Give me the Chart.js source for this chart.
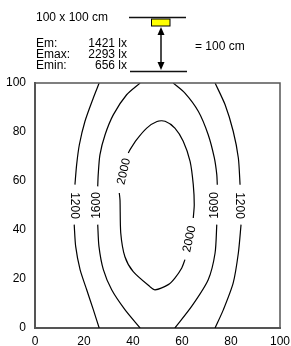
<!DOCTYPE html>
<html>
<head>
<meta charset="utf-8">
<script src="https://cdn.jsdelivr.net/npm/chart.js@4/dist/chart.umd.min.js"></script>
<style>
  html, body { margin: 0; padding: 0; background: #fff; }
  #wrap { width: 291px; height: 346px; }
</style>
</head>
<body>
<div id="wrap"><canvas id="iso" width="291" height="346"></canvas></div>
<script>
const FONT = "Arial, 'Liberation Sans', sans-serif";

// tick labels
const xTicks = [0, 20, 40, 60, 80, 100];
const yTicks = [0, 20, 40, 60, 80, 100];

// header texts
const roomLabel = "100 x 100 cm";
const statNames = ["Em:", "Emax:", "Emin:"];
const statValues = ["1421 lx", "2293 lx", "656 lx"];
const heightLabel = "= 100 cm";

// isolines, [x, y] in cm, split where the label sits
const iso1200LeftTop = [[26.2,100],[23.8,93.9],[20.4,84.4],[18.1,74.8],[17.0,66.7],[16.3,58.5]];
const iso1200LeftBottom = [[16.0,42.2],[16.6,33.3],[18.4,23.8],[21.1,15.6],[23.8,7.5],[26.2,0]];
const iso1600LeftTop = [[42.9,100],[37.4,95.2],[32.0,87.1],[28.6,78.9],[26.5,70.7],[25.8,62.6],[25.6,57.8]];
const iso1600LeftBottom = [[25.6,42.2],[26.1,33.3],[27.9,23.8],[31.3,15.6],[36.7,7.5],[42.9,0]];
const iso1600RightTop = [[56.4,100],[61.2,95.9],[66.7,88.4],[70.7,78.9],[73.2,69.4],[74.2,62.6],[74.4,58.5]];
const iso1600RightBottom = [[74.2,42.2],[73.5,30.6],[70.7,19.7],[64.0,8.9],[57.1,0]];
const iso1200RightTop = [[73.5,100],[77.6,91.1],[80.9,80.3],[83.0,69.4],[83.7,58.5]];
const iso1200RightBottom = [[84.1,42.2],[83.0,30.6],[80.9,18.4],[76.9,7.5],[73.5,0]];
const iso2000Lower = [[34.4,55.1],[34.7,52.2],[35.0,38.8],[36.7,29.1],[40.1,23.0],[46.9,16.9],[49.0,15.6],
  [54.4,17.7],[57.1,20.4],[59.9,24.5],[61.2,27.9]];
const iso2000Upper = [[64.6,44.9],[65.0,50.3],[64.6,58.5],[63.3,68.0],[60.5,76.2],[57.1,81.6],[53.1,84.4],
  [49.8,84.3],[45.6,81.6],[41.5,76.9],[38.8,72.8],[38.1,71.4]];

// isoline labels
const labelText = ["1200", "1600", "2000", "2000", "1600", "1200"];
const labelX = [16.0, 25.3, 36.3, 63.1, 73.5, 83.4];
const labelY = [50.0, 50.0, 63.9, 36.3, 50.0, 50.0];
const labelAngle = [90, -90, -77, -78, -90, 90];

const lines = [iso1200LeftTop, iso1200LeftBottom, iso1600LeftTop, iso1600LeftBottom,
  iso1600RightTop, iso1600RightBottom, iso1200RightTop, iso1200RightBottom, iso2000Lower, iso2000Upper];

const datasets = lines.map(pts => ({
  data: pts.map(p => ({ x: p[0], y: p[1] })),
  showLine: true,
  borderColor: "#000",
  borderWidth: 1.2,
  pointRadius: 0,
  tension: 0.25,
  fill: false,
}));

const headerPlugin = {
  id: "header",
  afterDraw(chart){
    const ctx = chart.ctx;
    ctx.save();
    ctx.fillStyle = "#000";
    ctx.font = "12px " + FONT;
    ctx.textBaseline = "alphabetic";
    ctx.textAlign = "left";
    ctx.fillText(roomLabel, 36, 21);
    const base = [46.5, 57.5, 68.5];
    statNames.forEach((s, i) => ctx.fillText(s, 36, base[i]));
    ctx.textAlign = "right";
    statValues.forEach((s, i) => ctx.fillText(s, 127, base[i]));
    ctx.textAlign = "left";
    ctx.fillText(heightLabel, 195, 50);

    // luminaire sketch
    ctx.strokeStyle = "#111";
    ctx.lineWidth = 1.5;
    ctx.beginPath();
    ctx.moveTo(129, 17.5); ctx.lineTo(186, 17.5);
    ctx.moveTo(130, 71.5); ctx.lineTo(187, 71.5);
    ctx.moveTo(161, 31); ctx.lineTo(161, 66);
    ctx.stroke();
    ctx.fillStyle = "#ffff00";
    ctx.fillRect(151.5, 19, 18.5, 7);
    ctx.lineWidth = 1;
    ctx.strokeStyle = "#000";
    ctx.strokeRect(151.5, 19, 18.5, 7);
    ctx.fillStyle = "#000";
    ctx.beginPath();
    ctx.moveTo(161, 27); ctx.lineTo(157.5, 35); ctx.lineTo(164.5, 35); ctx.closePath();
    ctx.moveTo(161, 70); ctx.lineTo(157.5, 62); ctx.lineTo(164.5, 62); ctx.closePath();
    ctx.fill();

    // plot frame, top and right
    const a = chart.chartArea;
    ctx.strokeStyle = "#555";
    ctx.lineWidth = 1.5;
    ctx.beginPath();
    ctx.moveTo(a.left, a.top); ctx.lineTo(a.right, a.top); ctx.lineTo(a.right, a.bottom);
    ctx.stroke();

    // isoline labels
    const xs = chart.scales.x, ys = chart.scales.y;
    ctx.font = "12px " + FONT;
    ctx.textAlign = "center";
    ctx.textBaseline = "middle";
    labelText.forEach((t, i) => {
      ctx.save();
      ctx.translate(xs.getPixelForValue(labelX[i]), ys.getPixelForValue(labelY[i]));
      ctx.rotate(labelAngle[i] * Math.PI / 180);
      ctx.fillText(t, 0, 0);
      ctx.restore();
    });
    ctx.restore();
  }
};

new Chart(document.getElementById("iso"), {
  type: "scatter",
  data: { datasets },
  options: {
    responsive: false,
    devicePixelRatio: 1,
    animation: false,
    layout: { padding: { top: 83, right: 11, left: 0, bottom: 0 } },
    plugins: { legend: { display: false }, tooltip: { enabled: false } },
    scales: {
      x: {
        type: "linear", min: 0, max: 100,
        afterBuildTicks: s => { s.ticks = xTicks.map(v => ({ value: v })); },
        afterFit: s => { s.height = 18; s.paddingLeft = 0; s.paddingRight = 0; },
        grid: { display: false, drawTicks: false },
        border: { color: "#555", width: 2 },
        ticks: { color: "#000", padding: 6, font: { family: FONT, size: 12 }, maxRotation: 0 }
      },
      y: {
        type: "linear", min: 0, max: 100,
        afterBuildTicks: s => { s.ticks = yTicks.map(v => ({ value: v })); },
        afterFit: s => { s.width = 35; s.paddingTop = 0; s.paddingBottom = 0; },
        grid: { display: false, drawTicks: false },
        border: { color: "#555", width: 2 },
        ticks: { color: "#000", padding: 9, font: { family: FONT, size: 12 } }
      }
    }
  },
  plugins: [headerPlugin]
});
</script>
</body>
</html>
